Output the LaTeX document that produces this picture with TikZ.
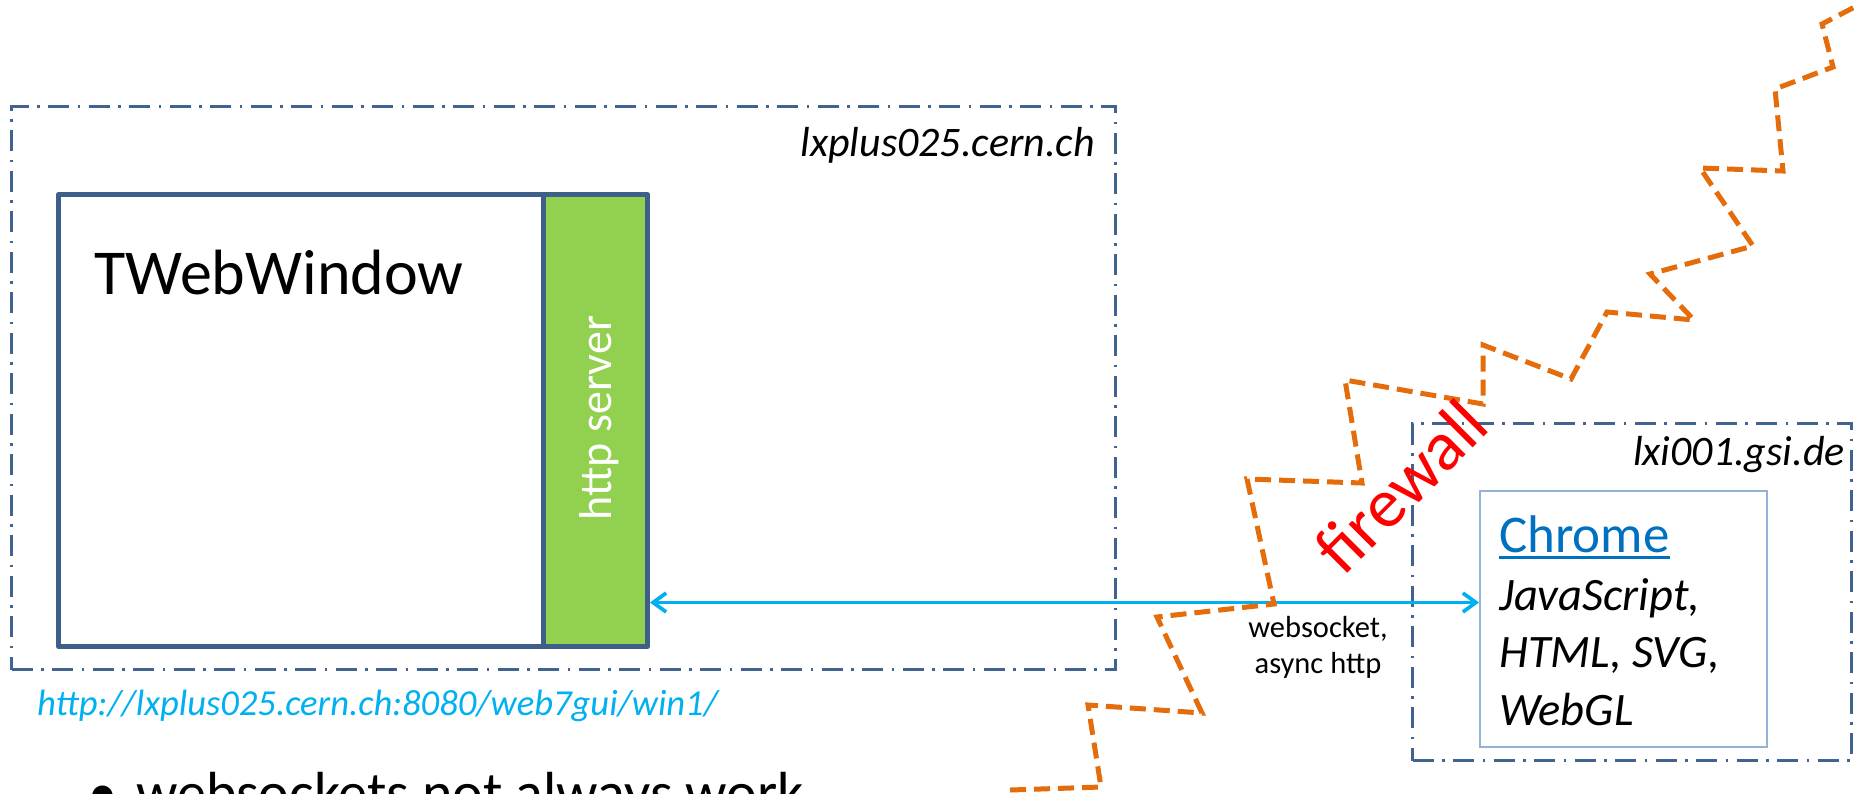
\documentclass[tikz,border=0pt]{standalone}
\usepackage{fontspec}
\setmainfont{Carlito}
\usetikzlibrary{arrows.meta}
\definecolor{frameblue}{HTML}{41638F}
\definecolor{boxblue}{HTML}{3F5F8B}
\definecolor{srvgreen}{HTML}{92D050}
\definecolor{cyanarrow}{HTML}{00B0F0}
\definecolor{fwallorange}{HTML}{E46C0A}
\definecolor{chromeblue}{HTML}{0070C0}
\definecolor{lightframe}{HTML}{95B3D7}
\definecolor{fwred}{HTML}{FF0000}
\begin{document}
\begin{tikzpicture}[x=1pt,y=-1pt,
  hostbox/.style={draw=frameblue, line width=3pt, dash pattern=on 21pt off 8.5pt on 2.5pt off 8.5pt, inner sep=0pt, anchor=north west},
  winbox/.style={draw=boxblue, line width=5pt, line join=round, inner sep=0pt, anchor=north west},
  hostlabel/.style={font=\fontsize{42}{50}\selectfont\itshape, inner sep=0pt, anchor=base east},
  chromeline/.style={font=\fontsize{46.5}{56}\selectfont\itshape, inner sep=0pt, anchor=base west},
  wslabel/.style={font=\fontsize{30.5}{36}\selectfont, inner sep=0pt, anchor=base},
  biarrow/.style={draw=cyanarrow, line width=3.7pt, {Straight Barb[length=13pt,width=19pt]}-{Straight Barb[length=13pt,width=19pt]}},
  fwline/.style={draw=fwallorange, line width=5pt, dash pattern=on 16pt off 8pt, line join=miter}
]
\useasboundingbox (0,0) rectangle (1857,793);
\clip (0,0) rectangle (1857,793);

% host boxes
\node[hostbox, minimum width=1104pt, minimum height=563pt] (lxplus) at (10,105) {};
\node[hostbox, minimum width=439pt, minimum height=337pt] (lxi) at (1411,422) {};
\node[hostlabel] (lxpluslbl) at (1095,156) {lxplus025.cern.ch};
\node[hostlabel] (lxilbl) at (1845,465) {lxi001.gsi.de};

% TWebWindow + http server
\node[winbox, fill=white, minimum width=485pt, minimum height=452pt] (web) at (56,192) {};
\node[winbox, fill=srvgreen, minimum width=104pt, minimum height=452pt] (srv) at (541,192) {};
\node[font=\fontsize{64}{77}\selectfont, inner sep=0pt, anchor=base west] (webtxt) at (94,294) {TWebWindow};
\node[font=\fontsize{46}{55}\selectfont, text=white, inner sep=0pt, anchor=base, rotate=90] (srvtxt) at (611.5,418) {http server};

% Chrome box
\node[draw=lightframe, line width=1.8pt, inner sep=0pt, anchor=north west, minimum width=287pt, minimum height=256pt] (chrome) at (1479,490) {};
\node[font=\fontsize{53}{64}\selectfont, text=chromeblue, inner sep=0pt, anchor=base west] (chrometxt) at (1499,552.7) {Chrome};
\draw[chromeblue, line width=3pt] ([yshift=-4.5pt]chrometxt.base west) -- ([yshift=-4.5pt]chrometxt.base east);
\node[chromeline] (js) at (1499,610.7) {JavaScript,};
\node[chromeline] (html) at (1499,667.7) {HTML, SVG,};
\node[chromeline] (webgl) at (1499,725) {WebGL};

% connection
\coordinate (arrowy) at (0,602.5);
\draw[biarrow] (srv.east |- arrowy) -- (chrome.west |- arrowy);
\node[wslabel] (ws1) at (1318,637) {websocket,};
\node[wslabel] (ws2) at (1318,673) {async http};

% firewall
\draw[fwline] (1010,790) -- (1101,787) -- (1088,705) -- (1202,713) -- (1157,617) -- (1274,604)
  -- (1247,479) -- (1362,483) -- (1345,380) -- (1483,404) -- (1483,345) -- (1571,379)
  -- (1607,312) -- (1694,320) -- (1650,274) -- (1753,246) -- (1700,168) -- (1783,171)
  -- (1775,89) -- (1833,67) -- (1822,24) -- (1870,-1);
\node[font=\fontsize{70}{80}\selectfont, text=fwred, inner sep=0pt, rotate=45] (fwtxt) at (1401,486) {firewall};

% url and bullet
\node[font=\fontsize{36.6}{44}\selectfont\itshape, text=cyanarrow, inner sep=0pt, anchor=base west] (url) at (37,715) {http://lxplus025.cern.ch:8080/web7gui/win1/};
\node[font=\fontsize{58}{70}\selectfont, inner sep=0pt, anchor=base west] (bullet) at (88,812) {•};
\node[font=\fontsize{58}{70}\selectfont, inner sep=0pt, anchor=base west] (bullettxt) at (136,812) {websockets not always work};
\end{tikzpicture}
\end{document}
